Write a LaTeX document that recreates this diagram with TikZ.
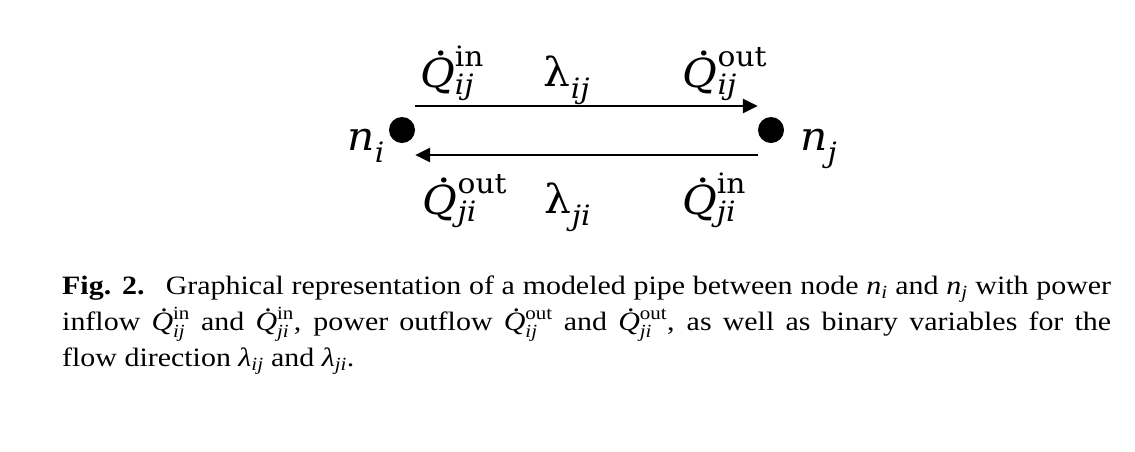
\documentclass[tikz,border=0pt]{standalone}
\usepackage{amsmath}
\usepackage{fontspec}
\setmainfont[FakeStretch=1.13]{Liberation Serif}
\newfontfamily\lblfont[FakeStretch=1.06]{DejaVu Serif}
\usetikzlibrary{arrows.meta}
% dotted italic Q: #1 horizontal offset of the dot, #2 raise of the dot
\newcommand{\dotQ}[2]{{\itshape\makebox[0pt][l]{\hspace{#1}\smash{\raisebox{#2}{\upshape.}}}Q}}
\newcommand{\Qd}[2]{$\text{\dotQ{0.33em}{0.72em}}^{\text{\upshape #1}}_{\text{\itshape #2}}$}
\newcommand{\Qdl}[2]{$\text{\dotQ{0.36em}{0.80em}}^{\text{\upshape #1}}_{\text{\itshape #2}}$}
\newcommand{\Vr}[2]{$\text{\itshape #1}_{\text{\itshape #2}}$}
\newcommand{\Lam}[1]{$\text{\upshape λ}_{\text{\itshape #1}}$}
\begin{document}
\begin{tikzpicture}[x=1pt,y=-1pt,
  dot/.style={circle,fill=black,minimum size=26pt,inner sep=0pt},
  pipe/.style={line width=2.6pt,-{Triangle[length=15pt,width=14pt]}},
  lbl/.style={font=\lblfont\fontsize{40}{48}\selectfont,inner sep=0pt,anchor=base},
  captionbox/.style={font=\fontsize{26.5}{36}\selectfont,inner sep=0pt,anchor=north west,text width=1049pt,align=justify}]
\useasboundingbox (0,0) rectangle (1135,451);
\node[dot] (ni) at (402,130) {};
\node[dot] (nj) at (771,130) {};
\draw[pipe] ([yshift=24pt]ni.east) -- ([yshift=24pt]nj.west);
\draw[pipe] ([yshift=-25pt]nj.west) -- ([yshift=-25pt]ni.east);
\node[lbl,anchor=base east] (lni) at (385,150) {\Vr{n}{i}};
\node[lbl,anchor=base west] (lnj) at (800,150) {\Vr{n}{j}};
\node[lbl] (qijin) at (452,87) {\Qdl{in}{ij}};
\node[lbl] (lamij) at (567,86) {\Lam{ij}};
\node[lbl] (qijout) at (725,87) {\Qdl{out}{ij}};
\node[lbl] (qjiout) at (465,214) {\Qdl{out}{ji}};
\node[lbl] (lamji) at (568,213) {\Lam{ji}};
\node[lbl] (qjiin) at (714,214) {\Qdl{in}{ji}};
\node[captionbox] (caption) at (62,276) {\textbf{Fig. 2.}\hspace{0.4em} Graphical representation of a modeled pipe between node \Vr{n}{i} and \Vr{n}{j} with power\linebreak
inflow \Qd{in}{ij} and \Qd{in}{ji}, power outflow \Qd{out}{ij} and \Qd{out}{ji}, as well as binary variables for the\linebreak
flow direction \Vr{λ}{ij} and \Vr{λ}{ji}.};
\end{tikzpicture}
\end{document}
